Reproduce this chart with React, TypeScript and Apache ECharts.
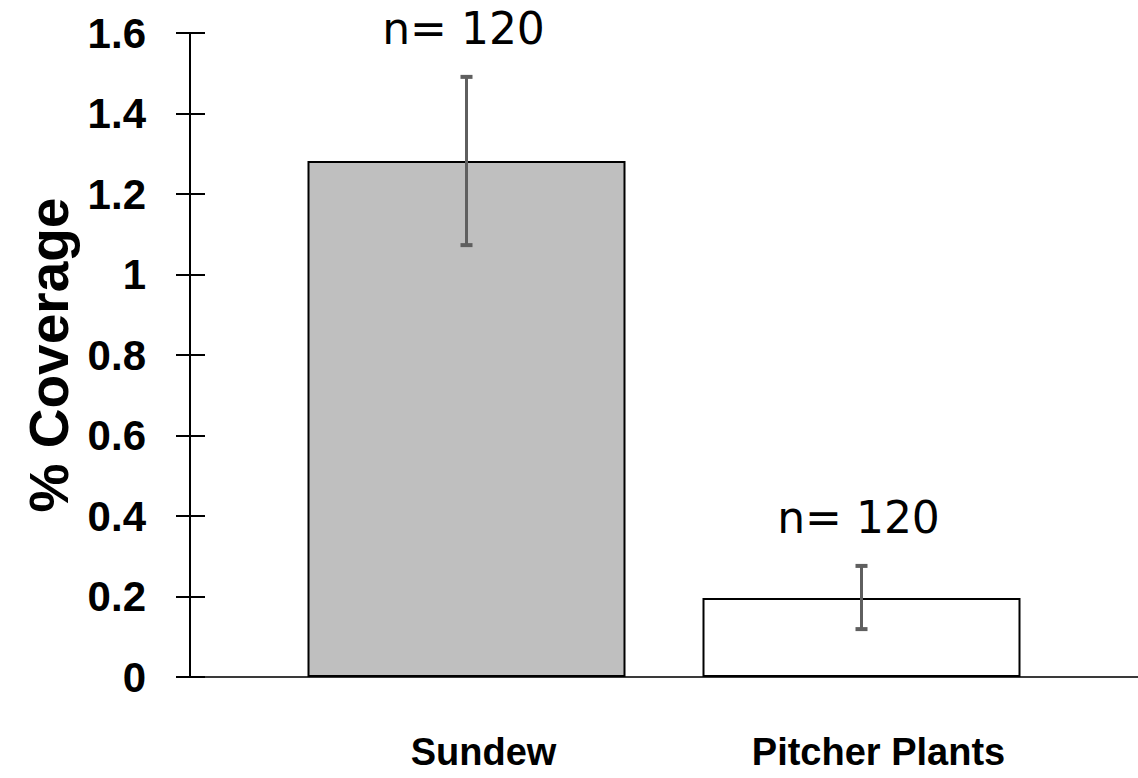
import React, { useEffect, useRef } from "react";
import * as echarts from "echarts";

const categories = ["Sundew", "Pitcher Plants"];
const positions = [0, 1];
const means = [1.282, 0.196];
const errLow = [1.073, 0.119];
const errHigh = [1.491, 0.276];
const nLabels = ["n= 120", "n= 120"];
const barColors = ["#bfbfbf", "#ffffff"];
const yMin = 0;
const yMax = 1.6;
const yStep = 0.2;

const sans = "'Liberation Sans', Arial, sans-serif";

export default function App() {
  const ref = useRef<HTMLDivElement>(null);
  useEffect(() => {
    if (!ref.current) return;
    const chart = echarts.init(ref.current, undefined, { renderer: "svg" });
    const yAxisBase = { type: "value", min: yMin, max: yMax, interval: yStep, splitLine: { show: false } };
    chart.setOption({
      animation: false,
      grid: { left: 190, right: 0, top: 33, bottom: 101, containLabel: false },
      xAxis: {
        type: "value",
        min: -0.7,
        max: 1.7,
        splitLine: { show: false },
        axisLine: { show: true, onZero: false, lineStyle: { color: "#3a3a3a", width: 2 } },
        axisTick: { show: false },
        axisLabel: {
          customValues: positions,
          formatter: (v: number) => categories[Math.round(v)] ?? "",
          margin: 56,
          fontFamily: sans,
          fontWeight: "bold",
          fontSize: 38,
          color: "#000",
          padding: [0, 0, 0, 34],
        },
      },
      yAxis: [
        {
          ...yAxisBase,
          name: "% Coverage",
          nameLocation: "middle",
          nameRotate: 90,
          nameGap: 110,
          nameTextStyle: { fontFamily: sans, fontWeight: "bold", fontSize: 55, color: "#000" },
          axisLine: { show: true, onZero: false, lineStyle: { color: "#000", width: 2 } },
          axisTick: { show: true, length: 14, lineStyle: { color: "#000", width: 2 } },
          axisLabel: { margin: 44, fontFamily: sans, fontWeight: "bold", fontSize: 42, color: "#000" },
        },
        {
          ...yAxisBase,
          position: "left",
          axisLine: { show: false, onZero: false },
          axisLabel: { show: false },
          axisTick: { show: true, inside: true, length: 15, lineStyle: { color: "#000", width: 2 } },
        },
      ],
      series: [
        {
          type: "bar",
          barWidth: 318,
          z: 2,
          data: positions.map((p, i) => ({
            value: [p, means[i]],
            itemStyle: { color: barColors[i], borderColor: "#000", borderWidth: 2 },
          })),
        },
        {
          type: "custom",
          clip: false,
          z: 5,
          data: positions.map((p, i) => [p, errLow[i], errHigh[i], i]),
          renderItem: (params: any, api: any) => {
            const x = api.value(0);
            const idx = api.value(3);
            const hi = api.coord([x, api.value(2)]);
            const lo = api.coord([x, api.value(1)]);
            const cap = 6;
            const capStyle = { stroke: "#5f5f5f", lineWidth: 4 };
            return {
              type: "group",
              children: [
                { type: "line", shape: { x1: hi[0], y1: hi[1], x2: lo[0], y2: lo[1] }, style: { stroke: "#5f5f5f", lineWidth: 3 } },
                { type: "line", shape: { x1: hi[0] - cap, y1: hi[1], x2: hi[0] + cap, y2: hi[1] }, style: capStyle },
                { type: "line", shape: { x1: lo[0] - cap, y1: lo[1], x2: lo[0] + cap, y2: lo[1] }, style: capStyle },
                {
                  type: "text",
                  x: hi[0] - 3,
                  y: hi[1] - 48,
                  style: {
                    text: nLabels[idx],
                    fontFamily: "'DejaVu Sans', sans-serif",
                    fontSize: 44,
                    fill: "#000",
                    align: "center",
                    verticalAlign: "middle",
                  },
                },
              ],
            };
          },
        },
      ],
    });
    return () => chart.dispose();
  }, []);
  return (
    <div
      ref={ref}
      style={{ position: "absolute", left: 0, top: 0, width: 1138, height: 778, background: "#fff" }}
    />
  );
}
